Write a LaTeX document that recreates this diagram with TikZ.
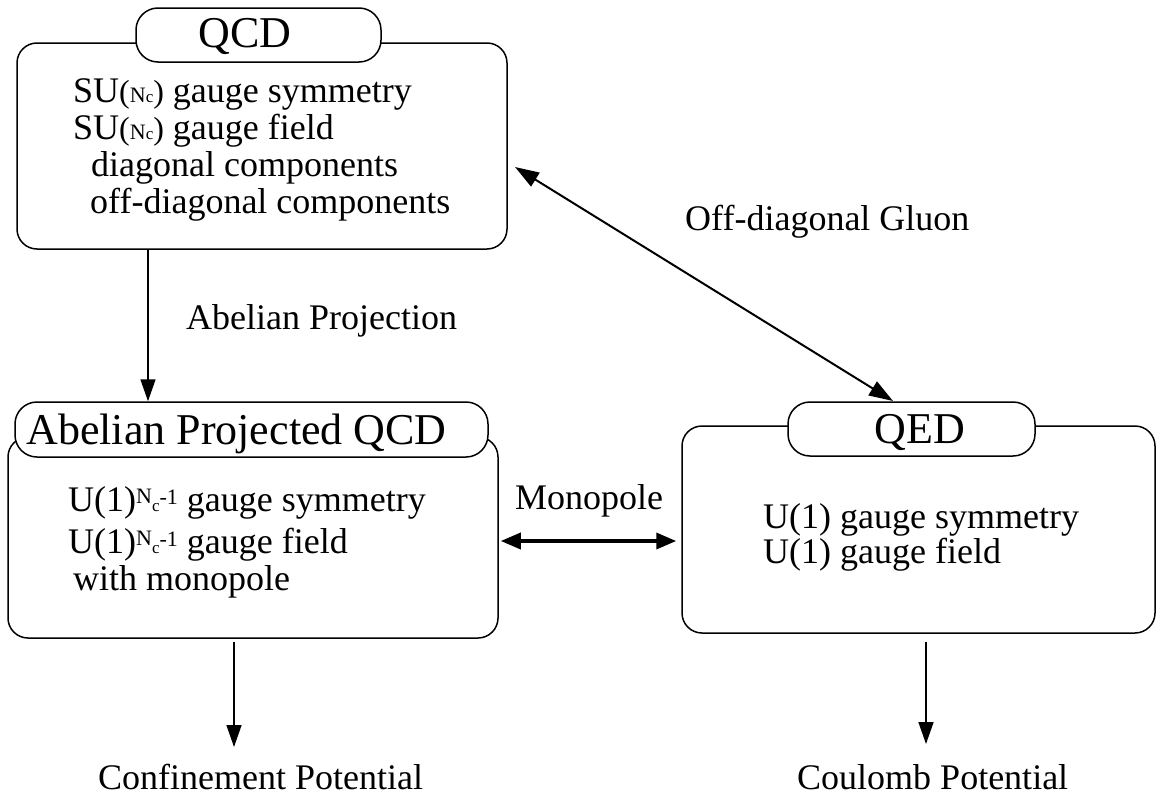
\documentclass[tikz,border=0pt]{standalone}
\usepackage{fontspec}
\setmainfont{Liberation Serif}
\usetikzlibrary{arrows.meta}
\newcommand{\fs}[1]{\fontsize{#1}{#1}\selectfont}
\newcommand{\NcIn}{{\fs{32}(}{\fs{22}N}{\fs{17}c}{\fs{32})}}
\newcommand{\NcSup}{\raisebox{8pt}{\fs{22}N}{\fs{17}c}\raisebox{7pt}{\fs{22}-1}}
\begin{document}
\begin{tikzpicture}[x=1pt,y=-1pt,
  box/.style={draw, line width=1.5pt, rounded corners=20pt, fill=white, inner sep=0pt},
  tabbox/.style={draw, line width=1.5pt, rounded corners=22pt, fill=white, inner sep=0pt},
  txt/.style={anchor=base west, inner sep=0pt, font=\fs{36}},
  ttl/.style={anchor=base, inner sep=0pt, font=\fs{44}},
  arr/.style={line width=1.5pt, -{Triangle[length=22pt,width=15pt]}},
  darr/.style={line width=2pt, {Triangle[length=24pt,width=16pt]}-{Triangle[length=24pt,width=16pt]}},
  marr/.style={line width=3.5pt, {Triangle[length=20pt,width=16pt]}-{Triangle[length=20pt,width=16pt]}}
]
\useasboundingbox (0,0) rectangle (1157,798);

% QCD
\node[box, minimum width=490pt, minimum height=206pt] (qcd) at (262,146) {};
\node[tabbox, minimum width=245pt, minimum height=54pt] (qcdtab) at (258.5,35) {};
\node[ttl] (qcdt) at (245,47) {QCD};
\node[txt] (q1) at (73,102) {SU\NcIn{} gauge symmetry};
\node[txt] (q2) at (73,139) {SU\NcIn{} gauge field};
\node[txt] (q3) at (91,176) {diagonal components};
\node[txt] (q4) at (90,213) {off-diagonal components};

% Abelian projected QCD
\node[box, minimum width=490pt, minimum height=201pt] (apbox) at (253,537.5) {};
\node[tabbox, minimum width=473pt, minimum height=55pt] (aptab) at (251.5,429.5) {};
\node[ttl] (apt) at (236.5,444) {Abelian Projected QCD};
\node[txt] (a1) at (68,511) {U(1)\NcSup{} gauge symmetry};
\node[txt] (a2) at (68,553) {U(1)\NcSup{} gauge field};
\node[txt] (a3) at (73,590) {with monopole};

% QED
\node[box, minimum width=473pt, minimum height=207pt] (qedbox) at (918.5,529.5) {};
\node[tabbox, minimum width=247pt, minimum height=54pt] (qedtab) at (911.5,429) {};
\node[ttl] (qedt) at (920,443) {QED};
\node[txt] (e1) at (763,528) {U(1) gauge symmetry};
\node[txt] (e2) at (763,563) {U(1) gauge field};

% labels
\node[txt] (lgl) at (685,230) {Off-diagonal Gluon};
\node[txt] (lap) at (186,329) {Abelian Projection};
\node[txt] (lmo) at (515,509) {Monopole};
\node[txt] (conf) at (98,789) {Confinement Potential};
\node[txt] (coul) at (797,789) {Coulomb Potential};

% coordinates
\coordinate (apx) at (148,0);
\coordinate (g1) at (515,167);
\coordinate (g2) at (893,401);
\coordinate (my) at (0,541);
\coordinate (cfx) at (234,0);
\coordinate (cfend) at (234,747);
\coordinate (cbx) at (926,0);
\coordinate (cbend) at (926,744);

% connectors
\draw[arr] (qcd.south -| apx) -- (aptab.north -| apx);
\draw[darr] (g1) -- (g2);
\draw[marr] ([xshift=2pt]apbox.east |- my) -- ([xshift=-5pt]qedbox.west |- my);
\draw[arr] ([yshift=-3pt]apbox.south -| cfx) -- (cfend);
\draw[arr] ([yshift=-8pt]qedbox.south -| cbx) -- (cbend);
\end{tikzpicture}
\end{document}
